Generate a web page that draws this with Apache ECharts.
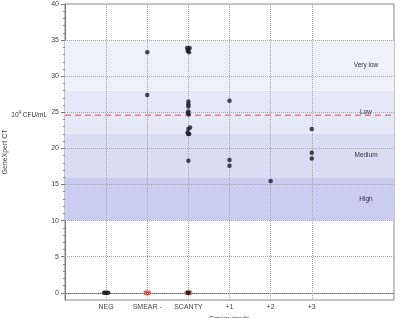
<!DOCTYPE html>
<html>
<head>
<meta charset="utf-8">
<script src="https://cdn.jsdelivr.net/npm/echarts@6/dist/echarts.min.js"></script>
<style>
  html, body { margin: 0; padding: 0; background: #fff; }
  #chart { width: 401px; height: 318px; }
</style>
</head>
<body>
<div id="chart"></div>
<script>
// smear grade categories sit at x = 1..6 on the value axis
const categories = ['NEG', 'SMEAR -', 'SCANTY', '+1', '+2', '+3'];
const yMajorTicks = [0, 5, 10, 15, 20, 25, 30, 35, 40];

// positive CT values, per category (index 0 = NEG)
const ctValues = [
  [],
  [33.3, 27.4],
  [33.9, 33.9, 33.7, 33.5, 33.3, 26.5, 26.1, 25.8, 25.1, 24.9, 24.7, 22.9, 22.7, 22.2, 22.0, 22.0, 18.3],
  [26.6, 18.4, 17.6],
  [15.5],
  [22.7, 19.4, 18.6]
];
// small horizontal jitter of those points
const ctJitter = [
  [],
  [0, 0],
  [-0.03, 0.03, 0, -0.015, 0.015, 0, 0, 0, 0, -0.01, 0.01, 0.04, 0, -0.02, 0.02, -0.005, 0],
  [0, 0, 0],
  [0],
  [0, 0, 0]
];
// points at CT 0 (undetected): jitter offsets per category
const zeroBlackJitter = [[-0.05, -0.02, 0.02, 0.05], [], [0, -0.01], [], [], []];
const zeroRedJitter = [[], [-0.03, 0.03], [-0.035, 0.035], [], [], []];

// CT bands
const bands = [
  { name: 'High', from: 10, to: 16, color: '#c9cef1' },
  { name: 'Medium', from: 16, to: 22, color: '#d9ddf4' },
  { name: 'Low', from: 22, to: 28, color: '#e5e8f7' },
  { name: 'Very low', from: 28, to: 35, color: '#eff1fa' }
];
const cfuThreshold = 24.6;

const chart = echarts.init(document.getElementById('chart'));

const blackPts = [];
const redPts = [];
ctValues.forEach(function (vals, i) {
  vals.forEach(function (v, j) {
    blackPts.push([i + 1 + ctJitter[i][j], v]);
  });
  zeroBlackJitter[i].forEach(function (d) { blackPts.push([i + 1 + d, 0]); });
  zeroRedJitter[i].forEach(function (d) { redPts.push([i + 1 + d, 0]); });
});

const gridLines = [];
[0, 5, 10, 15, 20, 25, 30, 35].forEach(function (v) { gridLines.push({ yAxis: v }); });
categories.forEach(function (c, i) { gridLines.push({ xAxis: i + 1 }); });

const font = 'Liberation Sans, Arial, sans-serif';
const redColor = '#e5484f';

chart.setOption({
  animation: false,
  textStyle: { fontFamily: font },
  grid: {
    left: 65, right: 7, top: 4, bottom: 18,
    outerBoundsMode: 'none',
    containLabel: false,
    show: true, borderColor: '#8a8a8a', borderWidth: 1, backgroundColor: 'transparent'
  },
  xAxis: {
    type: 'value',
    min: 0,
    max: 8,
    name: 'Smear grade',
    nameLocation: 'middle',
    nameGap: 11,
    nameTextStyle: { fontSize: 7, color: '#444' },
    axisLine: { show: true, lineStyle: { color: '#666' } },
    axisTick: { show: false },
    splitLine: { show: false },
    axisLabel: {
      customValues: [1, 2, 3, 4, 5, 6],
      fontSize: 7,
      color: '#444',
      margin: 4,
      formatter: function (v) { return categories[Math.round(v) - 1] || ''; }
    }
  },
  yAxis: [{
    type: 'value',
    min: -1,
    max: 40,
    name: 'GeneXpert CT',
    nameLocation: 'middle',
    nameGap: 56,
    nameTextStyle: { fontSize: 7, color: '#444' },
    axisLine: { show: true, lineStyle: { color: '#777' } },
    axisTick: { show: true, customValues: yMajorTicks, length: 4, lineStyle: { color: '#777' } },
    axisLabel: { customValues: yMajorTicks, fontSize: 7, color: '#444', margin: 6 },
    splitLine: { show: false }
  }, {
    type: 'value',
    min: -1,
    max: 40,
    position: 'left',
    axisLine: { show: false },
    axisTick: {
      show: true, length: 2, lineStyle: { color: '#888' },
      customValues: Array.from({ length: 41 }, function (_, k) { return k; })
    },
    axisLabel: { show: false },
    splitLine: { show: false }
  }],
  series: [{
    type: 'scatter',
    data: [],
    silent: true,
    markArea: {
      silent: true,
      data: bands.map(function (b) {
        return [{
          yAxis: b.from,
          itemStyle: { color: b.color },
          label: {
            show: true, formatter: b.name, position: ['91.5%', '50%'],
            align: 'center', verticalAlign: 'middle', fontSize: 6.5, color: '#333'
          }
        }, { yAxis: b.to }];
      })
    },
    markLine: {
      silent: true,
      symbol: 'none',
      label: { show: false },
      lineStyle: { type: 'dotted', color: '#a6a6a6', width: 1 },
      data: gridLines
    }
  }, {
    // 10^4 CFU/mL threshold
    type: 'line',
    silent: true,
    symbol: 'circle',
    symbolSize: 0,
    showSymbol: true,
    lineStyle: { type: [6, 4], color: redColor, width: 1 },
    itemStyle: { color: redColor },
    z: 3,
    data: [{
      value: [0, cfuThreshold],
      label: {
        show: true,
        position: 'left',
        distance: 18,
        formatter: '{b|10}{s|4}{b| CFU/mL}',
        rich: {
          b: { fontSize: 6.5, color: '#333' },
          s: { fontSize: 4.5, color: '#333', padding: [0, 0, 5, 0] }
        }
      }
    }, [8, cfuThreshold]]
  }, {
    type: 'scatter',
    data: redPts,
    symbolSize: 5,
    z: 4,
    itemStyle: { color: '#e8341c' }
  }, {
    type: 'scatter',
    data: blackPts,
    symbolSize: 4.5,
    z: 5,
    itemStyle: { color: '#1b1b2b' }
  }]
});
</script>
</body>
</html>
